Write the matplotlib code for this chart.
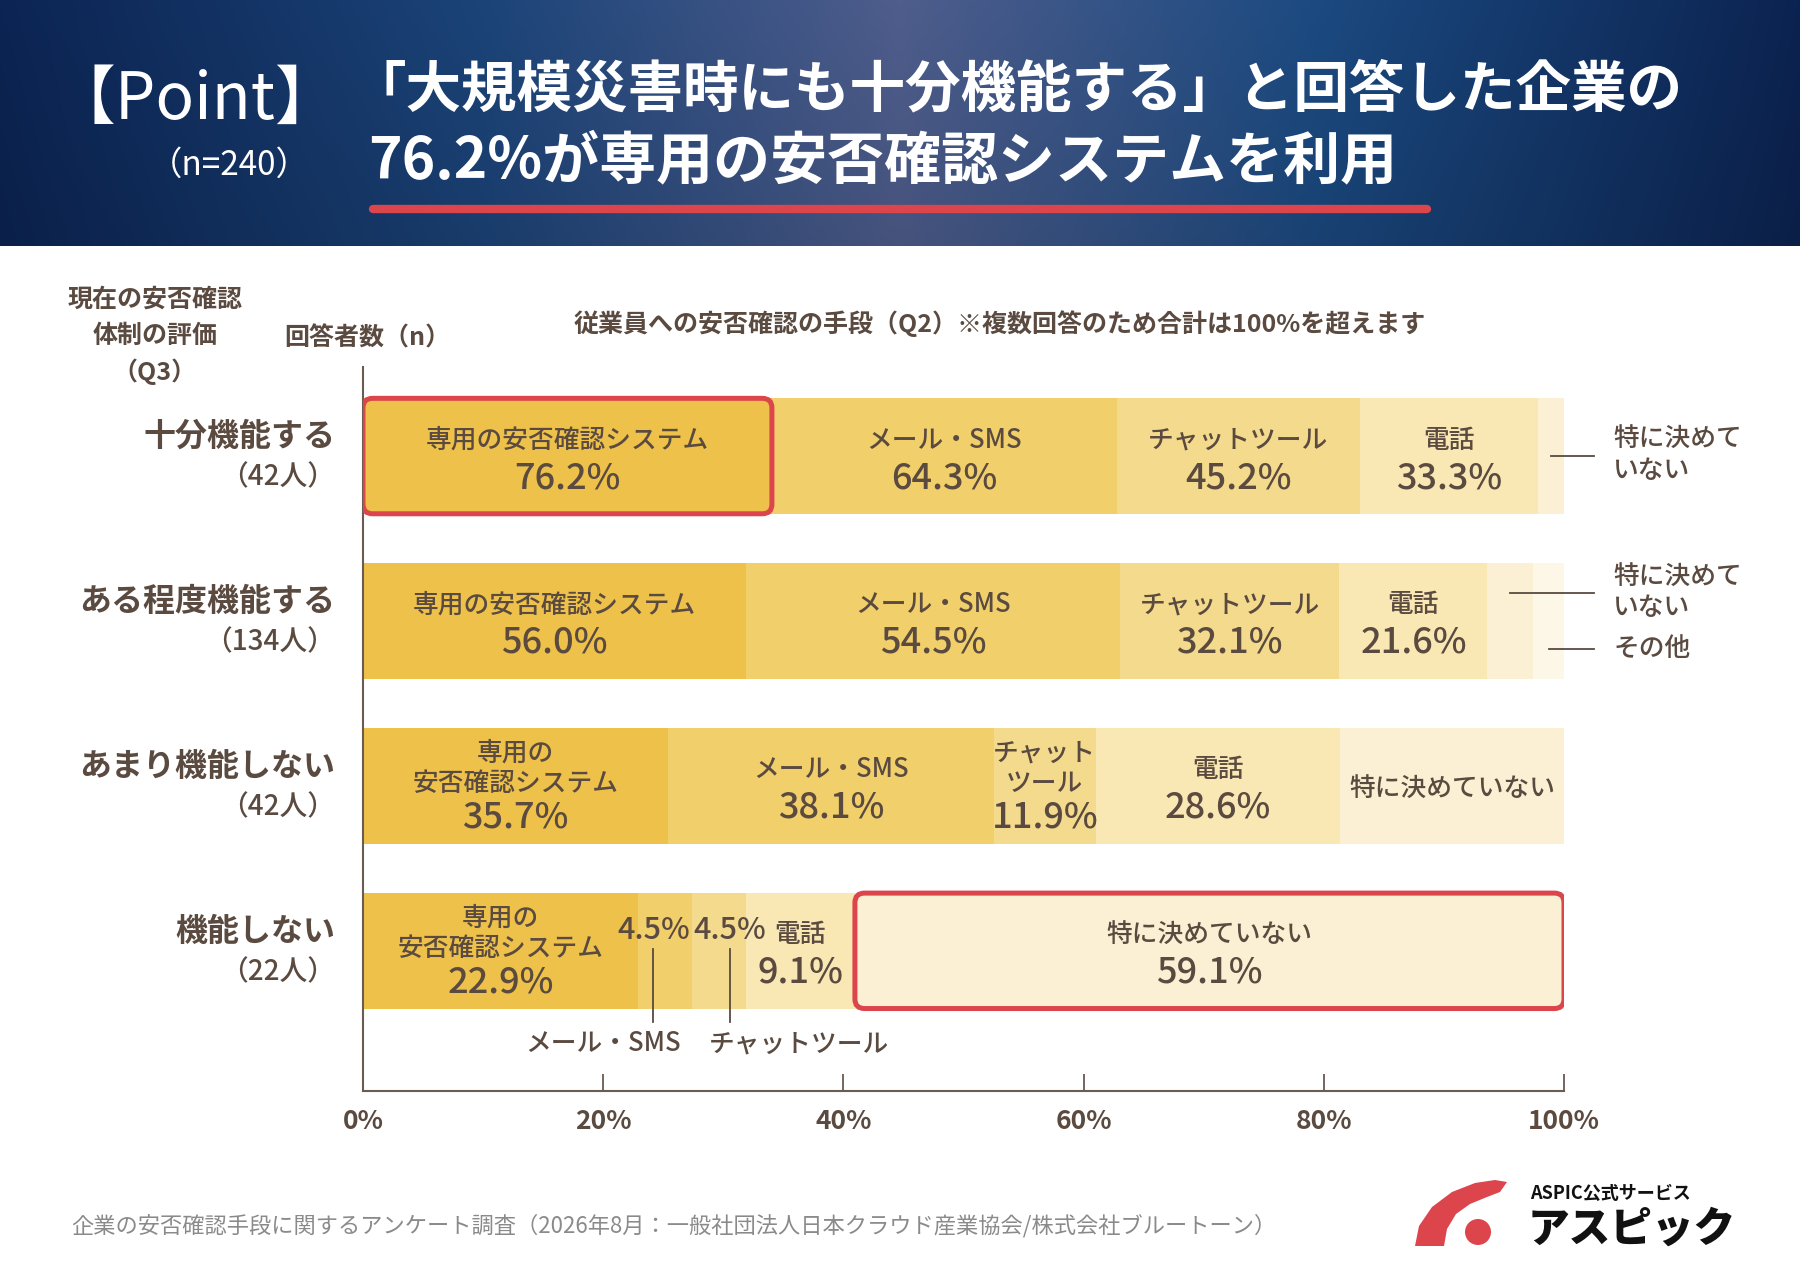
import numpy as np
import matplotlib.pyplot as plt
from matplotlib.patches import FancyBboxPatch, Polygon, Circle

plt.rcParams['font.family'] = ['Noto Sans CJK JP', 'DejaVu Sans']

# --- data ---
rows = ['十分機能する', 'ある程度機能する', 'あまり機能しない', '機能しない']
row_n = [42, 134, 42, 22]
methods = ['専用の安否確認システム', 'メール・SMS', 'チャットツール', '電話', '特に決めていない', 'その他']
dedicated = [76.2, 56.0, 35.7, 22.9]
mail_sms = [64.3, 54.5, 38.1, 4.5]
chat_tool = [45.2, 32.1, 11.9, 4.5]
phone = [33.3, 21.6, 28.6, 9.1]
undecided = [4.8, 6.7, 26.2, 59.1]   # rows 1-3 not printed
other = [0.0, 4.5, 0.0, 0.0]         # not printed, estimated
xticks = [0, 20, 40, 60, 80, 100]

seg_colors = ['#EEC24A', '#F1CF6B', '#F4DA8C', '#F9E7B4', '#FBF0D3', '#FDF7E7']
TXT = '#5a4a40'
RED = '#dc454c'

vals = np.array([dedicated, mail_sms, chat_tool, phone, undecided, other]).T
share = vals / vals.sum(axis=1, keepdims=True) * 100
left = np.cumsum(share, axis=1) - share
mid = left + share / 2

fig = plt.figure(figsize=(18, 12.71), dpi=100)

# background layer in pixel units
bg = fig.add_axes([0, 0, 1, 1], zorder=0)
bg.set_xlim(0, 1800)
bg.set_ylim(1271, 0)
bg.axis('off')

stops_x = [0, 0.27, 0.5, 0.73, 1]
stops_c = np.array([[11, 34, 78], [26, 64, 114], [74, 88, 132], [26, 70, 122], [11, 33, 76]]) / 255
xs = np.linspace(0, 1, 900)
grad = np.stack([np.interp(xs, stops_x, stops_c[:, k]) for k in range(3)], axis=-1)
vy = np.linspace(0, 1, 120)[:, None, None]
img = np.clip(grad[None, :, :] * (1.06 - 0.12 * vy), 0, 1)
bg.imshow(img, extent=[0, 1800, 246, 0], aspect='auto', interpolation='bilinear')

bg.text(195, 101, '【Point】', color='white', fontsize=46, ha='center', va='center')
bg.text(229, 165, '（n=240）', color='white', fontsize=24, ha='center', va='center')
bg.text(350, 90, '「大規模災害時にも十分機能する」と回答した企業の', color='white',
        fontsize=40, fontweight='bold', ha='left', va='center')
bg.text(368, 161, '76.2%が専用の安否確認システムを利用', color='white',
        fontsize=41, fontweight='bold', ha='left', va='center')
bg.plot([373, 1427], [209, 209], color=RED, lw=6, solid_capstyle='round')

# column headers
for txt, yy in zip(['現在の安否確認', '体制の評価', '（Q3）'], [300, 336, 372]):
    bg.text(155, yy, txt, color=TXT, fontsize=18, fontweight='bold', ha='center', va='center')
bg.text(367, 338, '回答者数（n）', color=TXT, fontsize=18, fontweight='bold', ha='center', va='center')
bg.text(1000, 324, '従業員への安否確認の手段（Q2）※複数回答のため合計は100%を超えます',
        color=TXT, fontsize=18, fontweight='bold', ha='center', va='center')

# footer
bg.text(71, 1226, '企業の安否確認手段に関するアンケート調査（2026年8月：一般社団法人日本クラウド産業協会/株式会社ブルートーン）',
        color='#8a8a8a', fontsize=16, ha='left', va='center')

# logo
swoosh = [(1415, 1246), (1419, 1226), (1432, 1207), (1452, 1192), (1475, 1183), (1495, 1180),
          (1507, 1182), (1500, 1192), (1487, 1197), (1470, 1204), (1456, 1214), (1447, 1229), (1444, 1246)]
bg.add_patch(Polygon(swoosh, closed=True, color=RED, lw=0))
bg.add_patch(Circle((1478, 1232), 13, color=RED, lw=0))
bg.text(1530, 1193, 'ASPIC公式サービス', color='#111111', fontsize=13, fontweight='bold', ha='left', va='center')
bg.text(1528, 1230, 'アスピック', color='#111111', fontsize=30, fontweight='heavy', ha='left', va='center')

# chart
ax = fig.add_axes([363 / 1800, 1 - 1091 / 1271, 1201 / 1800, (1091 - 367) / 1271], zorder=1)
ax.patch.set_alpha(0)
ypos = np.arange(len(rows))
for j in range(len(methods)):
    ax.barh(ypos, share[:, j], left=left[:, j], height=0.70, color=seg_colors[j], lw=0)

ax.set_xlim(0, 100)
ax.set_ylim(3.85, -0.54)
for s in ['top', 'right']:
    ax.spines[s].set_visible(False)
for s in ['left', 'bottom']:
    ax.spines[s].set_color('#6b5b50')
    ax.spines[s].set_linewidth(1.5)
ax.set_yticks([])
ax.set_xticks(xticks)
ax.set_xticklabels([f'{t}%' for t in xticks])
ax.tick_params(axis='x', direction='in', length=12, width=1.3, color='#6b5b50',
               labelsize=19, labelcolor=TXT, pad=12)
for lbl in ax.get_xticklabels():
    lbl.set_fontweight('bold')


def put(x, y, s, dy, size, **kw):
    # dy: vertical offset in pixels (down is positive)
    opts = dict(ha='center', va='center', color=TXT, fontsize=size, fontweight='medium')
    opts.update(kw)
    ax.annotate(s, (x, y), xytext=(0, -dy * 0.72), textcoords='offset points',
                annotation_clip=False, **opts)


def leader(x0, x1, y):
    ax.plot([x0, x1], [y, y], color=TXT, lw=1.3, clip_on=False)


NAME, PCT = 18.5, 26

# row labels
for i, (r, n) in enumerate(zip(rows, row_n)):
    put(-2.3, i, r, -19, 23, ha='right', fontweight='bold')
    put(-2.3, i, f'（{n}人）', 21, 20, ha='right')

# in-bar labels
split = {(2, 0): ['専用の', '安否確認システム'], (2, 2): ['チャット', 'ツール'],
         (3, 0): ['専用の', '安否確認システム']}
for i in range(len(rows)):
    for j in range(4):
        if i == 3 and j in (1, 2):
            continue
        names = split.get((i, j), [methods[j]])
        x = mid[i, j]
        if len(names) == 1:
            put(x, i, names[0], -16, NAME)
            put(x, i, f'{vals[i, j]:.1f}%', 22, PCT)
        else:
            put(x, i, names[0], -33, NAME)
            put(x, i, names[1], -2, NAME)
            put(x, i, f'{vals[i, j]:.1f}%', 32, PCT)

# undecided in rows 3 and 4
put(mid[2, 4], 2, methods[4], 2, NAME)
put(mid[3, 4], 3, methods[4], -16, NAME)
put(mid[3, 4], 3, f'{vals[3, 4]:.1f}%', 22, PCT)

# small segments in row 4 with leaders to labels under the bar
for j, nudge, ha, tx in [(1, -0.95, 'right', 2.3), (2, 0.95, 'left', -1.8)]:
    x = mid[3, j] + nudge
    put(x, 3, f'{vals[3, j]:.1f}%', -20, 22)
    ax.plot([x, x], [3 - 0.01, 3 + 0.43], color=TXT, lw=1.3)
    put(x + tx, 3, methods[j], 93, NAME, ha=ha)

# outside labels on the right
tx = 104.1
leader(mid[0, 4], 102.5, 0)
put(tx, 0, '特に決めて', -18, NAME, ha='left')
put(tx, 0, 'いない', 14, NAME, ha='left')
leader(mid[1, 4], 102.5, 1 - 28 / 165)
put(tx, 1, '特に決めて', -45, NAME, ha='left')
put(tx, 1, 'いない', -13, NAME, ha='left')
leader(mid[1, 5], 102.5, 1 + 28 / 165)
put(tx, 1, 'その他', 28, NAME, ha='left')

# highlight boxes
for i, j in [(0, 0), (3, 4)]:
    box = FancyBboxPatch((left[i, j], i - 0.35), share[i, j], 0.70,
                         boxstyle='round,pad=0,rounding_size=0.8', mutation_aspect=12.01 / 165,
                         fill=False, edgecolor=RED, lw=3.6, zorder=5)
    ax.add_patch(box)

fig.savefig('out.png', dpi=100)
